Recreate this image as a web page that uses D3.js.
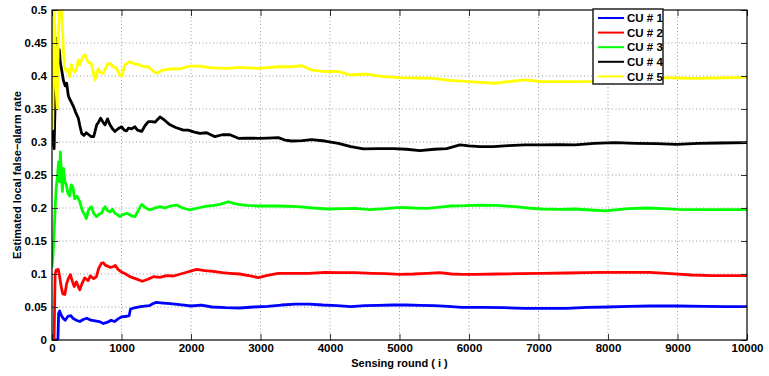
<!DOCTYPE html>
<html>
<head>
<meta charset="utf-8">
<script src="https://cdn.jsdelivr.net/npm/d3@7"></script>
<style>
  body { margin: 0; background: #fff; }
  text { font-family: "Liberation Sans", Arial, sans-serif; font-weight: bold; }
</style>
</head>
<body>
<div id="drawArea"></div>
<script>
// [sensing round, estimated local false-alarm rate]
const cu1 = [[0,0],[85,0],[95,0.04],[110,0.044],[130,0.038],[160,0.033],[190,0.03],[230,0.036],[270,0.037],[300,0.033],[350,0.03],[400,0.028],[450,0.031],[500,0.033],[560,0.03],[620,0.029],[680,0.028],[740,0.025],[800,0.027],[850,0.03],[900,0.028],[950,0.032],[1000,0.035],[1080,0.036],[1110,0.037],[1130,0.047],[1200,0.049],[1300,0.051],[1400,0.052],[1450,0.055],[1500,0.057],[1600,0.056],[1700,0.055],[1800,0.054],[1900,0.053],[2000,0.0515],[2150,0.053],[2300,0.05],[2500,0.049],[2700,0.0485],[2900,0.05],[3100,0.051],[3300,0.053],[3500,0.0545],[3700,0.0545],[3900,0.053],[4100,0.052],[4300,0.0505],[4500,0.052],[4700,0.0525],[4900,0.053],[5100,0.053],[5300,0.0525],[5500,0.052],[5700,0.051],[5900,0.0495],[6200,0.0495],[6500,0.049],[6800,0.048],[7100,0.048],[7400,0.048],[7700,0.0495],[8000,0.05],[8300,0.051],[8600,0.0515],[9000,0.0515],[9400,0.051],[9700,0.0505],[10000,0.0505]];

const cu2 = [[0,0],[30,0],[45,0.1],[60,0.106],[90,0.107],[110,0.096],[130,0.082],[155,0.07],[185,0.069],[210,0.085],[235,0.093],[265,0.099],[290,0.09],[320,0.081],[350,0.088],[400,0.076],[430,0.085],[470,0.094],[520,0.09],[550,0.097],[600,0.093],[640,0.096],[670,0.108],[710,0.116],[740,0.117],[770,0.113],[800,0.112],[840,0.11],[880,0.111],[910,0.113],[950,0.107],[1000,0.103],[1060,0.1],[1120,0.096],[1200,0.093],[1300,0.089],[1380,0.092],[1460,0.096],[1550,0.095],[1650,0.0975],[1750,0.097],[1850,0.1],[1950,0.103],[2080,0.107],[2200,0.105],[2320,0.104],[2450,0.102],[2560,0.101],[2700,0.1],[2850,0.097],[2970,0.0945],[3100,0.098],[3256,0.101],[3500,0.101],[3700,0.101],[3930,0.1025],[4150,0.102],[4360,0.102],[4600,0.101],[4800,0.1005],[5000,0.0995],[5200,0.1],[5400,0.101],[5580,0.102],[5750,0.1],[5900,0.0995],[6100,0.0995],[6400,0.1],[6700,0.1005],[7050,0.101],[7400,0.1015],[7700,0.102],[7900,0.1025],[8200,0.1025],[8600,0.1025],[8900,0.1005],[9200,0.0985],[9500,0.0975],[9800,0.0975],[10000,0.0975]];

const cu3 = [[0,0.11],[15,0.13],[30,0.16],[45,0.2],[60,0.23],[80,0.25],[95,0.27],[110,0.24],[120,0.285],[135,0.25],[150,0.225],[165,0.26],[185,0.24],[206,0.235],[230,0.222],[254,0.218],[275,0.235],[300,0.232],[326,0.214],[360,0.218],[398,0.21],[425,0.2],[446,0.194],[470,0.19],[494,0.184],[520,0.195],[545,0.2],[566,0.202],[600,0.192],[638,0.187],[670,0.19],[710,0.192],[740,0.198],[763,0.202],[800,0.196],[835,0.194],[870,0.198],[906,0.192],[940,0.19],[978,0.187],[1020,0.19],[1074,0.192],[1110,0.19],[1146,0.188],[1194,0.187],[1240,0.196],[1290,0.2055],[1350,0.2],[1410,0.197],[1480,0.2],[1554,0.202],[1620,0.2],[1700,0.203],[1794,0.2045],[1880,0.2],[1986,0.197],[2100,0.2],[2225,0.203],[2330,0.204],[2417,0.2055],[2537,0.2095],[2600,0.2075],[2681,0.2055],[2800,0.204],[2970,0.203],[3250,0.203],[3544,0.202],[3750,0.2],[3976,0.1985],[4200,0.199],[4360,0.1995],[4576,0.1975],[4800,0.199],[5007,0.201],[5200,0.2],[5391,0.1995],[5550,0.201],[5727,0.203],[5950,0.2035],[6158,0.2045],[6400,0.204],[6662,0.202],[6850,0.2],[7046,0.1985],[7300,0.198],[7526,0.1985],[7750,0.197],[7957,0.1955],[8100,0.197],[8300,0.199],[8557,0.2],[8800,0.199],[9000,0.198],[9300,0.1975],[9700,0.1975],[10000,0.1975]];

const cu4 = [[0,0.33],[15,0.3],[30,0.29],[45,0.36],[60,0.43],[70,0.457],[80,0.44],[91,0.424],[105,0.44],[120,0.42],[139,0.409],[163,0.394],[190,0.385],[211,0.389],[235,0.37],[259,0.364],[280,0.36],[307,0.354],[340,0.345],[379,0.336],[400,0.325],[427,0.313],[460,0.31],[494,0.314],[530,0.311],[566,0.308],[600,0.308],[643,0.326],[670,0.33],[700,0.336],[740,0.329],[763,0.326],[800,0.335],[830,0.327],[870,0.32],[906,0.316],[950,0.32],[1003,0.323],[1040,0.318],[1074,0.317],[1100,0.321],[1146,0.32],[1194,0.323],[1230,0.318],[1290,0.316],[1340,0.325],[1386,0.331],[1434,0.331],[1482,0.33],[1554,0.338],[1620,0.333],[1698,0.326],[1780,0.322],[1890,0.318],[1960,0.318],[2050,0.315],[2129,0.313],[2225,0.314],[2345,0.308],[2450,0.311],[2561,0.311],[2681,0.3056],[2800,0.306],[2969,0.3056],[3100,0.306],[3256,0.3066],[3350,0.303],[3448,0.3015],[3600,0.302],[3736,0.3035],[3928,0.3015],[4120,0.298],[4300,0.293],[4480,0.2895],[4700,0.29],[4911,0.29],[5100,0.289],[5295,0.287],[5500,0.289],[5679,0.29],[5870,0.2955],[6000,0.294],[6158,0.293],[6350,0.293],[6566,0.2945],[6800,0.2955],[7046,0.2955],[7300,0.296],[7526,0.2955],[7800,0.298],[8100,0.299],[8400,0.298],[8700,0.2975],[8988,0.2965],[9300,0.298],[9600,0.2985],[10000,0.299]];

const cu5 = [[0,0.34],[10,0.32],[20,0.4],[30,0.5],[45,0.46],[60,0.38],[75,0.35],[90,0.45],[105,0.5],[134,0.5],[150,0.477],[163,0.44],[180,0.414],[206,0.407],[230,0.41],[254,0.399],[280,0.417],[300,0.41],[331,0.406],[350,0.41],[379,0.424],[398,0.417],[446,0.43],[475,0.432],[500,0.425],[523,0.421],[566,0.419],[595,0.405],[619,0.394],[650,0.405],[666,0.411],[700,0.405],[738,0.404],[780,0.414],[810,0.419],[835,0.419],[882,0.414],[930,0.4116],[978,0.401],[1003,0.4],[1050,0.417],[1122,0.4217],[1200,0.418],[1266,0.4167],[1320,0.414],[1386,0.414],[1450,0.408],[1506,0.404],[1600,0.409],[1698,0.4106],[1842,0.411],[1986,0.415],[2129,0.415],[2273,0.4126],[2400,0.412],[2561,0.4116],[2681,0.413],[2969,0.4116],[3256,0.414],[3450,0.414],[3592,0.4156],[3736,0.409],[3928,0.4066],[4120,0.407],[4288,0.4015],[4528,0.403],[4767,0.399],[5007,0.3975],[5250,0.397],[5487,0.3965],[5727,0.3934],[5950,0.392],[6158,0.3904],[6374,0.389],[6600,0.392],[6806,0.394],[7046,0.3914],[7300,0.3914],[7526,0.3914],[7765,0.392],[8000,0.394],[8300,0.396],[8600,0.397],[8796,0.3975],[9000,0.397],[9228,0.3965],[9500,0.397],[9800,0.3975],[10000,0.398]];

const seriesNames = ['CU # 1', 'CU # 2', 'CU # 3', 'CU # 4', 'CU # 5'];
const seriesColors = ['#0000ff', '#ff0000', '#00ff00', '#000000', '#ffff00'];
const xTicks = [0, 1000, 2000, 3000, 4000, 5000, 6000, 7000, 8000, 9000, 10000];
const yTicks = [0, 0.05, 0.1, 0.15, 0.2, 0.25, 0.3, 0.35, 0.4, 0.45, 0.5];

const margin = { top: 10, right: 22, bottom: 36, left: 52 };
const totalW = 769, totalH = 376;
const width = totalW - margin.left - margin.right;
const height = totalH - margin.top - margin.bottom;

const svg = d3.select('#drawArea').append('svg')
  .attr('width', totalW)
  .attr('height', totalH);

const g = svg.append('g')
  .attr('transform', `translate(${margin.left}, ${margin.top})`);

const x = d3.scaleLinear().domain([0, 10000]).range([0, width]);
const y = d3.scaleLinear().domain([0, 0.5]).range([height, 0]);

// dotted grid
g.append('g')
  .attr('class', 'grid')
  .selectAll('line.gx')
  .data(xTicks.slice(1, -1))
  .enter().append('line')
  .attr('x1', d => x(d)).attr('x2', d => x(d))
  .attr('y1', 0).attr('y2', height);
g.select('.grid')
  .selectAll('line.gy')
  .data(yTicks.slice(1, -1))
  .enter().append('line')
  .attr('x1', 0).attr('x2', width)
  .attr('y1', d => y(d)).attr('y2', d => y(d));
g.selectAll('.grid line')
  .attr('stroke', '#9a9a9a')
  .attr('stroke-width', 1)
  .attr('stroke-dasharray', '1,2.5');

// lines, clipped to plot box
svg.append('clipPath').attr('id', 'clip')
  .append('rect').attr('width', width).attr('height', height);

const line = d3.line().x(d => x(d[0])).y(d => y(d[1]));
const allSeries = [cu1, cu2, cu3, cu4, cu5];

g.append('g').attr('clip-path', 'url(#clip)')
  .selectAll('path')
  .data(allSeries)
  .enter().append('path')
  .attr('d', line)
  .attr('fill', 'none')
  .attr('stroke', (d, i) => seriesColors[i])
  .attr('stroke-width', 2.8)
  .attr('stroke-linejoin', 'round');

// axes with inward ticks (all four sides)
const fmtY = d => d === 0 ? '0' : d3.format('~g')(d);
const xAxis = g.append('g')
  .attr('transform', `translate(0, ${height})`)
  .call(d3.axisBottom(x).tickValues(xTicks).tickSize(-6).tickPadding(4).tickFormat(d3.format('d')));
const yAxis = g.append('g')
  .call(d3.axisLeft(y).tickValues(yTicks).tickSize(-6).tickPadding(5).tickFormat(fmtY));
g.append('g')
  .call(d3.axisTop(x).tickValues(xTicks).tickSize(-6).tickFormat(''));
g.append('g')
  .attr('transform', `translate(${width}, 0)`)
  .call(d3.axisRight(y).tickValues(yTicks).tickSize(-6).tickFormat(''));

g.selectAll('.domain').remove();
g.selectAll('.tick line').attr('stroke', '#333').attr('stroke-width', 1);
g.selectAll('.tick text')
  .attr('fill', '#000')
  .style('font-size', '11.5px')
  .style('font-weight', 'bold');
xAxis.selectAll('.tick text').attr('dy', '0.71em');

// box
g.append('rect')
  .attr('width', width).attr('height', height)
  .attr('fill', 'none')
  .attr('stroke', '#000')
  .attr('stroke-width', 1.2);

// axis titles
svg.append('text')
  .attr('x', margin.left + width / 2)
  .attr('y', 367)
  .attr('text-anchor', 'middle')
  .style('font-size', '11px')
  .text('Sensing round ( i )');

svg.append('text')
  .attr('transform', `translate(21, ${margin.top + height / 2}) rotate(-90)`)
  .attr('text-anchor', 'middle')
  .style('font-size', '11px')
  .text('Estimated local false\u2212alarm rate');

// legend
const legend = svg.append('g').attr('transform', 'translate(593, 9)');
legend.append('rect')
  .attr('width', 70).attr('height', 75)
  .attr('fill', '#fff')
  .attr('stroke', '#222')
  .attr('stroke-width', 1.5);

const item = legend.selectAll('.item')
  .data(seriesNames)
  .enter().append('g')
  .attr('class', 'item')
  .attr('transform', (d, i) => `translate(0, ${9 + i * 14.6})`);

item.append('line')
  .attr('x1', 5).attr('x2', 31)
  .attr('stroke', (d, i) => seriesColors[i])
  .attr('stroke-width', 2);

item.append('text')
  .attr('x', 34)
  .attr('dy', '0.36em')
  .style('font-size', '11.5px')
  .text(d => d);
</script>
</body>
</html>
